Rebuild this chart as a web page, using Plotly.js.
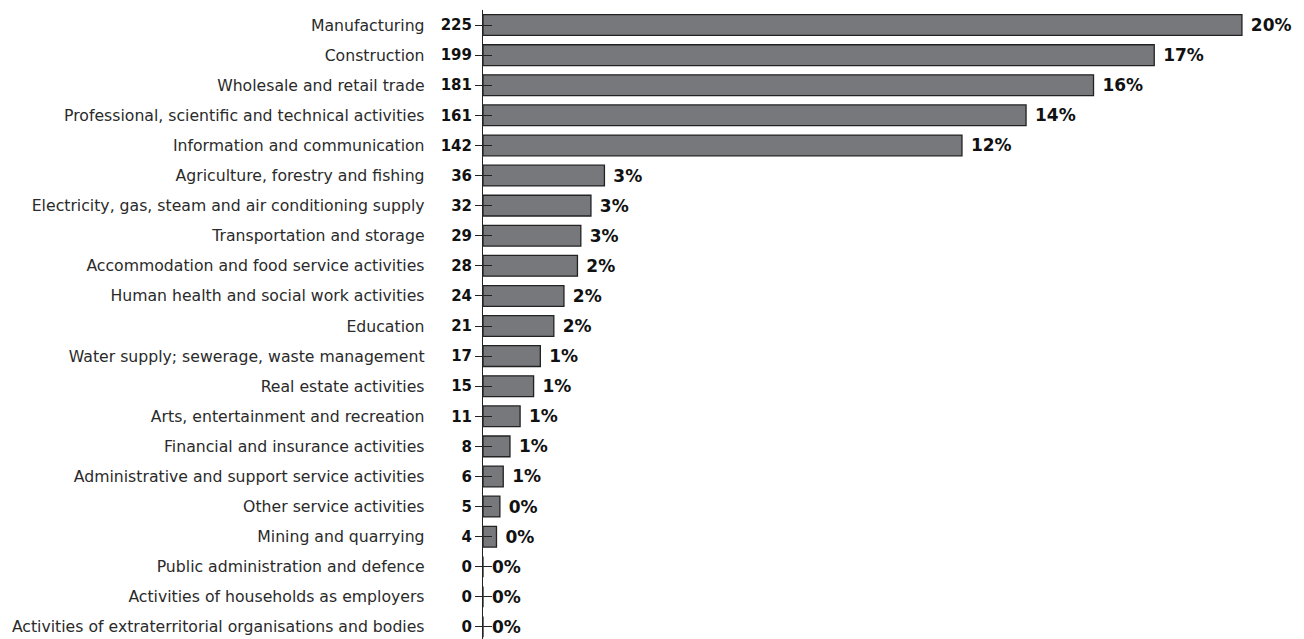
<!DOCTYPE html>
<html>
<head>
<meta charset="utf-8">
<script src="https://cdn.plot.ly/plotly-3.0.1.min.js"></script>
<style>html,body{margin:0;padding:0;background:#fff;}#chart{width:1304px;height:639px;}</style>
</head>
<body>
<div id="chart"></div>
<script>
const categories = [
  "Manufacturing",
  "Construction",
  "Wholesale and retail trade",
  "Professional, scientific and technical activities",
  "Information and communication",
  "Agriculture, forestry and fishing",
  "Electricity, gas, steam and air conditioning supply",
  "Transportation and storage",
  "Accommodation and food service activities",
  "Human health and social work activities",
  "Education",
  "Water supply; sewerage, waste management",
  "Real estate activities",
  "Arts, entertainment and recreation",
  "Financial and insurance activities",
  "Administrative and support service activities",
  "Other service activities",
  "Mining and quarrying",
  "Public administration and defence",
  "Activities of households as employers",
  "Activities of extraterritorial organisations and bodies"
];
const counts = [225, 199, 181, 161, 142, 36, 32, 29, 28, 24, 21, 17, 15, 11, 8, 6, 5, 4, 0, 0, 0];
const percents = [20, 17, 16, 14, 12, 3, 3, 3, 2, 2, 2, 1, 1, 1, 1, 1, 0, 0, 0, 0, 0];

const idx = categories.map((c, i) => i);
const pctText = percents.map(p => " " + p + "%");
const countText = counts.map(v => "<b>" + v + "</b>");
const yRange = [20.4, -0.5];

const bars = {
  type: "bar",
  orientation: "h",
  x: counts,
  y: idx,
  text: pctText,
  textposition: "outside",
  cliponaxis: false,
  textfont: {family: "DejaVu Sans", size: 17, color: "#111", weight: "bold"},
  marker: {color: "#77787c", line: {color: "#222", width: 1.3}},
  width: 0.69,
  hoverinfo: "skip",
  yaxis: "y"
};
const ghost = {
  type: "scatter",
  mode: "markers",
  x: counts,
  y: idx,
  marker: {opacity: 0},
  hoverinfo: "skip",
  yaxis: "y2",
  showlegend: false
};

const layout = {
  width: 1304,
  height: 639,
  margin: {l: 483, r: 0, t: 10, b: 0},
  paper_bgcolor: "#fff",
  plot_bgcolor: "#fff",
  showlegend: false,
  xaxis: {range: [0, 243.4], visible: false, fixedrange: true},
  yaxis: {
    range: yRange,
    tickmode: "array",
    tickvals: idx,
    ticktext: categories,
    ticks: "inside",
    ticklen: 9,
    tickwidth: 1,
    tickcolor: "#222",
    showline: true,
    linecolor: "#222",
    linewidth: 1.3,
    showgrid: false,
    zeroline: false,
    ticklabelstandoff: 54,
    tickfont: {family: "DejaVu Sans", size: 15.7, color: "#2a2a2a"},
    fixedrange: true
  },
  yaxis2: {
    overlaying: "y",
    side: "left",
    range: yRange,
    tickmode: "array",
    tickvals: idx,
    ticktext: countText,
    ticks: "outside",
    ticklen: 7,
    tickwidth: 1,
    tickcolor: "#222",
    showline: false,
    showgrid: false,
    zeroline: false,
    tickfont: {family: "DejaVu Sans", size: 15, color: "#111"},
    fixedrange: true
  }
};

Plotly.newPlot("chart", [bars, ghost], layout, {displayModeBar: false, staticPlot: true});
</script>
</body>
</html>
